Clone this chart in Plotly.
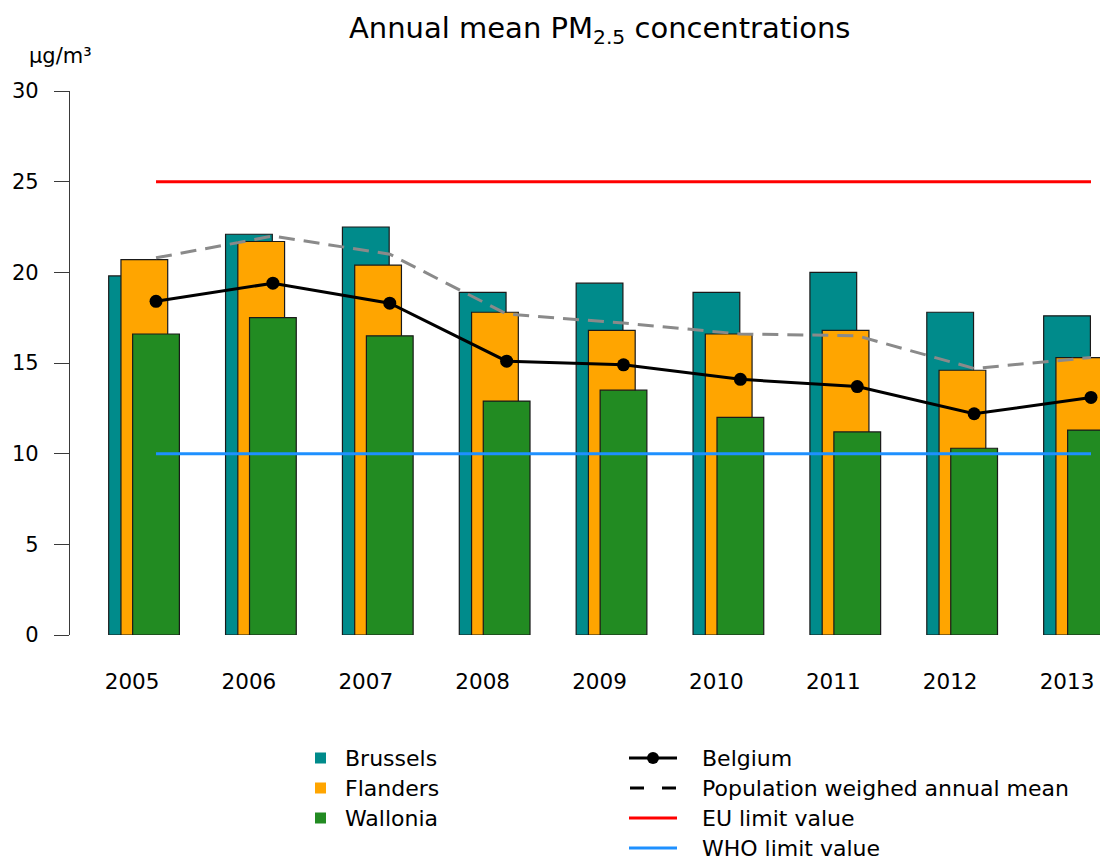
import plotly.graph_objects as go

# ---------------- data ----------------
years = [2005, 2006, 2007, 2008, 2009, 2010, 2011, 2012, 2013]
year_labels = ["2005", "2006", "2007", "2008", "2009", "2010", "2011", "2012", "2013"]
brussels = [19.8, 22.1, 22.5, 18.9, 19.4, 18.9, 20.0, 17.8, 17.6]
flanders = [20.7, 21.7, 20.4, 17.8, 16.8, 16.6, 16.8, 14.6, 15.3]
wallonia = [16.6, 17.5, 16.5, 12.9, 13.5, 12.0, 11.2, 10.3, 11.3]
belgium = [18.4, 19.4, 18.3, 15.1, 14.9, 14.1, 13.7, 12.2, 13.1]
pop_weighted = [20.8, 22.0, 21.0, 17.7, 17.2, 16.6, 16.5, 14.7, 15.3]
eu_limit = 25
who_limit = 10
y_ticks = [0, 5, 10, 15, 20, 25, 30]

# ---------------- style / layout constants ----------------
PAGE_OFF = 8  # default body margin of the html page
W, H = 1108 - PAGE_OFF, 859 - PAGE_OFF
ML, MR, MT = 70 - PAGE_OFF, 0, 91 - PAGE_OFF
MB = H - (635 - PAGE_OFF)
PW, PH = W - ML - MR, H - MT - MB
FONT = "DejaVu Sans"
BAR_W = 0.40
OFF_B, OFF_F, OFF_W = -0.205, -0.10, 0.0
X0, X1 = 2004.264, 2013.1455

C_BRU = "#008B8B"
C_FLA = "#FFA500"
C_WAL = "#228B22"
C_EDGE = "#1a1a1a"
C_GRAY = "#8a8a8a"
C_RED = "#FF0000"
C_BLUE = "#1E90FF"


def px(xp):
    """screen pixel x -> paper x"""
    return (xp - PAGE_OFF - ML) / PW


def py(yp):
    """screen pixel y -> paper y"""
    return (H - MB - (yp - PAGE_OFF)) / PH


fig = go.Figure()

for vals, off, col, name in [
    (brussels, OFF_B, C_BRU, "Brussels"),
    (flanders, OFF_F, C_FLA, "Flanders"),
    (wallonia, OFF_W, C_WAL, "Wallonia"),
]:
    fig.add_trace(go.Bar(
        x=[y + off for y in years], y=vals, width=BAR_W, name=name,
        marker=dict(color=col, line=dict(color=C_EDGE, width=1.2)),
        showlegend=False,
    ))

fig.add_trace(go.Scatter(
    x=years, y=[eu_limit] * len(years), mode="lines", name="EU limit value",
    line=dict(color=C_RED, width=3), showlegend=False,
))
fig.add_trace(go.Scatter(
    x=years, y=[who_limit] * len(years), mode="lines", name="WHO limit value",
    line=dict(color=C_BLUE, width=3), showlegend=False,
))
fig.add_trace(go.Scatter(
    x=years, y=pop_weighted, mode="lines", name="Population weighed annual mean",
    line=dict(color=C_GRAY, width=3, dash="16px,9px"), showlegend=False,
))
fig.add_trace(go.Scatter(
    x=years, y=belgium, mode="lines+markers", name="Belgium",
    line=dict(color="black", width=3), marker=dict(color="black", size=13),
    showlegend=False,
))

fig.update_layout(
    width=W, height=H,
    margin=dict(l=ML, r=MR, t=MT, b=MB, pad=0),
    paper_bgcolor="white", plot_bgcolor="white",
    barmode="overlay",
    font=dict(family=FONT, size=21, color="black"),
    xaxis=dict(
        range=[X0, X1], showgrid=False, zeroline=False, showline=False,
        tickmode="array", tickvals=[y + OFF_B for y in years], ticktext=year_labels,
        ticks="", tickfont=dict(size=21.5), ticklabelstandoff=31,
    ),
    yaxis=dict(
        range=[0, 30], showgrid=False, zeroline=False, showline=True,
        linecolor="#3a3a3a", linewidth=1.3,
        tickmode="array", tickvals=y_ticks, ticks="outside", ticklen=15,
        tickcolor="#3a3a3a", tickwidth=1.3, tickfont=dict(size=21),
        ticklabelstandoff=11,
    ),
)

ann = []
ann.append(dict(x=px(599.5), y=py(30), xref="paper", yref="paper",
                text="Annual mean PM<sub>2.5</sub> concentrations", showarrow=False,
                font=dict(size=29), xanchor="center", yanchor="middle"))
ann.append(dict(x=px(60), y=py(56), xref="paper", yref="paper",
                text="µg/m³", showarrow=False,
                font=dict(size=21), xanchor="center", yanchor="middle"))

shapes = []
# left legend column (bars)
for (label, col, yc) in [("Brussels", C_BRU, 758), ("Flanders", C_FLA, 788), ("Wallonia", C_WAL, 818)]:
    shapes.append(dict(type="rect", xref="paper", yref="paper",
                       x0=px(315), x1=px(326), y0=py(yc - 5.5), y1=py(yc + 5.5),
                       fillcolor=col, line=dict(width=0)))
    ann.append(dict(x=px(343), y=py(yc), xref="paper", yref="paper", text=label,
                    showarrow=False, font=dict(size=22), xanchor="left", yanchor="middle"))

# right legend column (lines)
right_items = [
    ("Belgium", "black", "solid", 758),
    ("Population weighed annual mean", "black", "dash", 788),
    ("EU limit value", C_RED, "solid", 818),
    ("WHO limit value", C_BLUE, "solid", 848),
]
for (label, col, dash, yc) in right_items:
    if dash == "dash":
        shapes.append(dict(type="line", xref="paper", yref="paper",
                           x0=px(630), x1=px(644), y0=py(yc), y1=py(yc),
                           line=dict(color=col, width=3)))
        shapes.append(dict(type="line", xref="paper", yref="paper",
                           x0=px(662), x1=px(676), y0=py(yc), y1=py(yc),
                           line=dict(color=col, width=3)))
    else:
        shapes.append(dict(type="line", xref="paper", yref="paper",
                           x0=px(629), x1=px(677), y0=py(yc), y1=py(yc),
                           line=dict(color=col, width=3)))
    if label == "Belgium":
        shapes.append(dict(type="circle", xref="paper", yref="paper",
                           x0=px(647), x1=px(659), y0=py(yc - 6), y1=py(yc + 6),
                           fillcolor="black", line=dict(width=0)))
    ann.append(dict(x=px(700), y=py(yc), xref="paper", yref="paper", text=label,
                    showarrow=False, font=dict(size=22), xanchor="left", yanchor="middle"))

fig.update_layout(annotations=ann, shapes=shapes)

fig.write_html("out.html")
